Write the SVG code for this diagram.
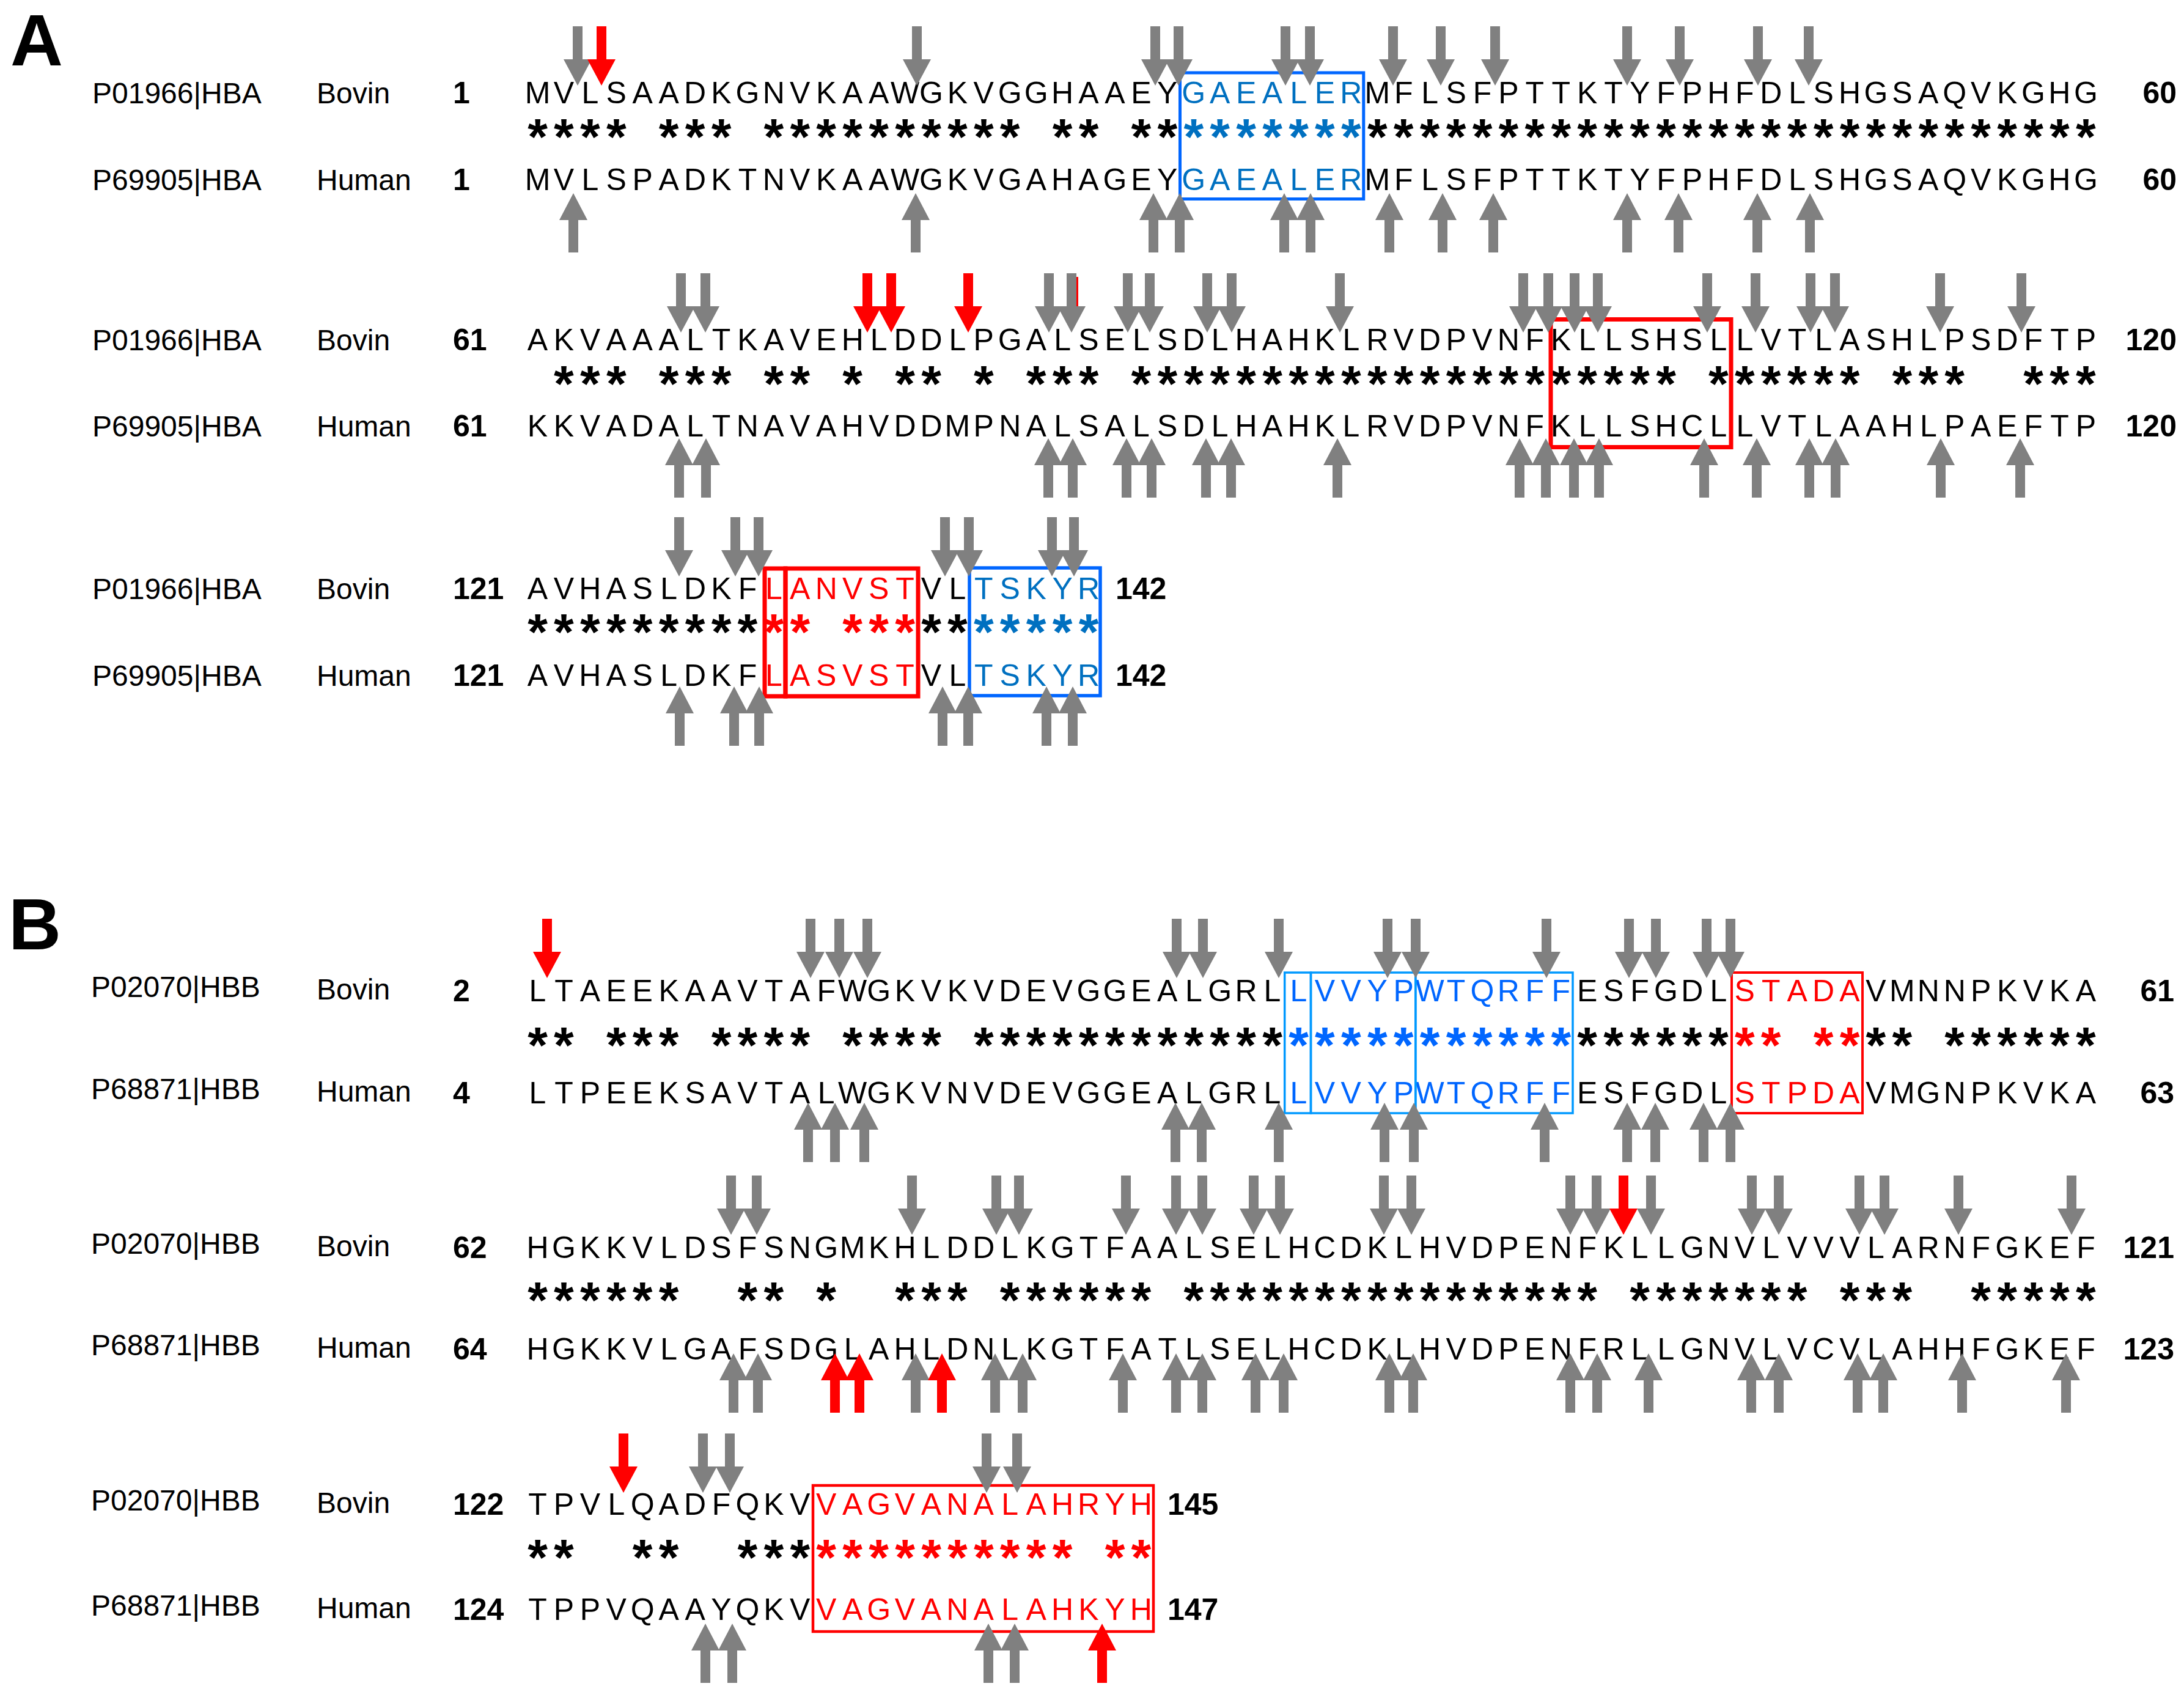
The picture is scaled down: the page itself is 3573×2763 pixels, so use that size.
<svg xmlns="http://www.w3.org/2000/svg" xmlns:xlink="http://www.w3.org/1999/xlink" width="3573" height="2763" viewBox="0 0 3573 2763">
<style>
text{font-family:"Liberation Sans",Arial,sans-serif}
.seq{font-size:50px;text-anchor:middle}
.star{font-size:84px;font-weight:bold;text-anchor:middle}
.lab{font-size:48px}
.num{font-size:50px;font-weight:bold}
.end{text-anchor:end}
.pan{font-size:119px;font-weight:bold}
.k{fill:#000}
.bA{fill:#0070C0}
.bB{fill:#0066FF}
.r{fill:#FF0000}
.g{fill:#808080}
.boxA{fill:none;stroke:#0066FF;stroke-width:5}
.boxB{fill:none;stroke:#0099FF;stroke-width:3.5}
.rbA{fill:none;stroke:#FF0000;stroke-width:7}
.rbB{fill:none;stroke:#FF0000;stroke-width:4}
</style>
<defs>
<path id="dn" d="M-8,0H8V54H23L0,97L-23,54H-8Z"/>
<path id="up" d="M-8,97H8V44H23L0,0L-23,44H-8Z"/>
</defs>
<rect width="3573" height="2763" fill="#fff"/>

<g id="panel-A">
<text class="pan" x="17" y="107">A</text>
<g id="A-labels">
<text class="lab" x="151" y="169">P01966|HBA</text><text class="lab" x="518" y="169">Bovin</text><text class="num" x="741" y="169">1</text>
<text class="lab" x="151" y="311">P69905|HBA</text><text class="lab" x="518" y="311">Human</text><text class="num" x="741" y="311">1</text>
<text class="num end" x="3561" y="169">60</text><text class="num end" x="3561" y="311">60</text>
<text class="lab" x="151" y="573">P01966|HBA</text><text class="lab" x="518" y="573">Bovin</text><text class="num" x="741" y="573">61</text>
<text class="lab" x="151" y="714">P69905|HBA</text><text class="lab" x="518" y="714">Human</text><text class="num" x="741" y="714">61</text>
<text class="num end" x="3561" y="573">120</text><text class="num end" x="3561" y="714">120</text>
<text class="lab" x="151" y="980">P01966|HBA</text><text class="lab" x="518" y="980">Bovin</text><text class="num" x="741" y="980">121</text>
<text class="lab" x="151" y="1122">P69905|HBA</text><text class="lab" x="518" y="1122">Human</text><text class="num" x="741" y="1122">121</text>
<text class="num" x="1825" y="980">142</text><text class="num" x="1825" y="1122">142</text>
</g>
<g id="A-seq" transform="translate(2.5,0)">
<text class="seq" y="169"><tspan class="k" x="877 919.9 962.9 1005.8 1048.7 1091.7 1134.6 1177.5 1220.4 1263.4 1306.3 1349.2 1392.2 1435.1 1478 1521 1563.9 1606.8 1649.7 1692.7 1735.6 1778.5 1821.5 1864.4 1907.3">MVLSAADKGNVKAAWGKVGGHAAEY</tspan><tspan class="bA" x="1950.3 1993.2 2036.1 2079 2122 2164.9 2207.8">GAEALER</tspan><tspan class="k" x="2250.8 2293.7 2336.6 2379.6 2422.5 2465.4 2508.3 2551.3 2594.2 2637.1 2680.1 2723 2765.9 2808.9 2851.8 2894.7 2937.6 2980.6 3023.5 3066.4 3109.4 3152.3 3195.2 3238.2 3281.1 3324 3366.9 3409.9">MFLSFPTTKTYFPHFDLSHGSAQVKGHG</tspan></text>
<text class="star" y="253"><tspan class="k" x="877 919.9 962.9 1005.8 1091.7 1134.6 1177.5 1263.4 1306.3 1349.2 1392.2 1435.1 1478 1521 1563.9 1606.8 1649.7 1735.6 1778.5 1864.4 1907.3">*********************</tspan><tspan class="bA" x="1950.3 1993.2 2036.1 2079 2122 2164.9 2207.8">*******</tspan><tspan class="k" x="2250.8 2293.7 2336.6 2379.6 2422.5 2465.4 2508.3 2551.3 2594.2 2637.1 2680.1 2723 2765.9 2808.9 2851.8 2894.7 2937.6 2980.6 3023.5 3066.4 3109.4 3152.3 3195.2 3238.2 3281.1 3324 3366.9 3409.9">****************************</tspan></text>
<text class="seq" y="311"><tspan class="k" x="877 919.9 962.9 1005.8 1048.7 1091.7 1134.6 1177.5 1220.4 1263.4 1306.3 1349.2 1392.2 1435.1 1478 1521 1563.9 1606.8 1649.7 1692.7 1735.6 1778.5 1821.5 1864.4 1907.3">MVLSPADKTNVKAAWGKVGAHAGEY</tspan><tspan class="bA" x="1950.3 1993.2 2036.1 2079 2122 2164.9 2207.8">GAEALER</tspan><tspan class="k" x="2250.8 2293.7 2336.6 2379.6 2422.5 2465.4 2508.3 2551.3 2594.2 2637.1 2680.1 2723 2765.9 2808.9 2851.8 2894.7 2937.6 2980.6 3023.5 3066.4 3109.4 3152.3 3195.2 3238.2 3281.1 3324 3366.9 3409.9">MFLSFPTTKTYFPHFDLSHGSAQVKGHG</tspan></text>

<text class="seq k" y="573" x="877 919.9 962.9 1005.8 1048.7 1091.7 1134.6 1177.5 1220.4 1263.4 1306.3 1349.2 1392.2 1435.1 1478 1521 1563.9 1606.8 1649.7 1692.7 1735.6 1778.5 1821.5 1864.4 1907.3 1950.3 1993.2 2036.1 2079 2122 2164.9 2207.8 2250.8 2293.7 2336.6 2379.6 2422.5 2465.4 2508.3 2551.3 2594.2 2637.1 2680.1 2723 2765.9 2808.9 2851.8 2894.7 2937.6 2980.6 3023.5 3066.4 3109.4 3152.3 3195.2 3238.2 3281.1 3324 3366.9 3409.9">AKVAAALTKAVEHLDDLPGALSELSDLHAHKLRVDPVNFKLLSHSLLVTLASHLPSDFTP</text>
<text class="star k" y="657" x="919.9 962.9 1005.8 1091.7 1134.6 1177.5 1263.4 1306.3 1392.2 1478 1521 1606.8 1692.7 1735.6 1778.5 1864.4 1907.3 1950.3 1993.2 2036.1 2079 2122 2164.9 2207.8 2250.8 2293.7 2336.6 2379.6 2422.5 2465.4 2508.3 2551.3 2594.2 2637.1 2680.1 2723 2808.9 2851.8 2894.7 2937.6 2980.6 3023.5 3109.4 3152.3 3195.2 3324 3366.9 3409.9">************************************************</text>
<text class="seq k" y="714" x="877 919.9 962.9 1005.8 1048.7 1091.7 1134.6 1177.5 1220.4 1263.4 1306.3 1349.2 1392.2 1435.1 1478 1521 1563.9 1606.8 1649.7 1692.7 1735.6 1778.5 1821.5 1864.4 1907.3 1950.3 1993.2 2036.1 2079 2122 2164.9 2207.8 2250.8 2293.7 2336.6 2379.6 2422.5 2465.4 2508.3 2551.3 2594.2 2637.1 2680.1 2723 2765.9 2808.9 2851.8 2894.7 2937.6 2980.6 3023.5 3066.4 3109.4 3152.3 3195.2 3238.2 3281.1 3324 3366.9 3409.9">KKVADALTNAVAHVDDMPNALSALSDLHAHKLRVDPVNFKLLSHCLLVTLAAHLPAEFTP</text>

<text class="seq" y="980"><tspan class="k" x="877 919.9 962.9 1005.8 1048.7 1091.7 1134.6 1177.5 1220.4">AVHASLDKF</tspan><tspan class="r" x="1263.4 1306.3 1349.2 1392.2 1435.1 1478">LANVST</tspan><tspan class="k" x="1521 1563.9">VL</tspan><tspan class="bA" x="1606.8 1649.7 1692.7 1735.6 1778.5">TSKYR</tspan></text>
<text class="star" y="1063"><tspan class="k" x="877 919.9 962.9 1005.8 1048.7 1091.7 1134.6 1177.5 1220.4">*********</tspan><tspan class="r" x="1263.4 1306.3 1392.2 1435.1 1478">*****</tspan><tspan class="k" x="1521 1563.9">**</tspan><tspan class="bA" x="1606.8 1649.7 1692.7 1735.6 1778.5">*****</tspan></text>
<text class="seq" y="1122"><tspan class="k" x="877 919.9 962.9 1005.8 1048.7 1091.7 1134.6 1177.5 1220.4">AVHASLDKF</tspan><tspan class="r" x="1263.4 1306.3 1349.2 1392.2 1435.1 1478">LASVST</tspan><tspan class="k" x="1521 1563.9">VL</tspan><tspan class="bA" x="1606.8 1649.7 1692.7 1735.6 1778.5">TSKYR</tspan></text>
</g>
<g id="A-boxes">
<rect class="boxA" x="1930.5" y="119" width="300.3" height="206.5"/>
<rect class="rbA" x="2537" y="522.5" width="295" height="209"/>
<rect class="rbA" x="1251" y="930" width="34" height="209"/>
<rect class="rbA" x="1285" y="930" width="217" height="209"/>
<rect class="boxA" x="1586" y="929" width="214" height="209" style="stroke-width:5.5"/>
</g>
</g>

<g id="panel-B">
<text class="pan" x="14" y="1553">B</text>
<g id="B-labels">
<text class="lab" x="149" y="1631">P02070|HBB</text><text class="lab" x="518" y="1635">Bovin</text><text class="num" x="741" y="1638">2</text>
<text class="lab" x="149" y="1798">P68871|HBB</text><text class="lab" x="518" y="1802">Human</text><text class="num" x="741" y="1805">4</text>
<text class="num end" x="3557" y="1638">61</text><text class="num end" x="3557" y="1805">63</text>
<text class="lab" x="149" y="2051">P02070|HBB</text><text class="lab" x="518" y="2055">Bovin</text><text class="num" x="741" y="2058">62</text>
<text class="lab" x="149" y="2217">P68871|HBB</text><text class="lab" x="518" y="2221">Human</text><text class="num" x="741" y="2224">64</text>
<text class="num end" x="3557" y="2058">121</text><text class="num end" x="3557" y="2224">123</text>
<text class="lab" x="149" y="2471">P02070|HBB</text><text class="lab" x="518" y="2475">Bovin</text><text class="num" x="741" y="2478">122</text>
<text class="lab" x="149" y="2643">P68871|HBB</text><text class="lab" x="518" y="2647">Human</text><text class="num" x="741" y="2650">124</text>
<text class="num" x="1910" y="2478">145</text><text class="num" x="1910" y="2650">147</text>
</g>
<g id="B-seq" transform="translate(2.5,0)">
<text class="seq" y="1638"><tspan class="k" x="877 919.9 962.9 1005.8 1048.7 1091.7 1134.6 1177.5 1220.4 1263.4 1306.3 1349.2 1392.2 1435.1 1478 1521 1563.9 1606.8 1649.7 1692.7 1735.6 1778.5 1821.5 1864.4 1907.3 1950.3 1993.2 2036.1 2079">LTAEEKAAVTAFWGKVKVDEVGGEALGRL</tspan><tspan class="bB" x="2122 2164.9 2207.8 2250.8 2293.7 2336.6 2379.6 2422.5 2465.4 2508.3 2551.3">LVVYPWTQRFF</tspan><tspan class="k" x="2594.2 2637.1 2680.1 2723 2765.9 2808.9">ESFGDL</tspan><tspan class="r" x="2851.8 2894.7 2937.6 2980.6 3023.5">STADA</tspan><tspan class="k" x="3066.4 3109.4 3152.3 3195.2 3238.2 3281.1 3324 3366.9 3409.9">VMNNPKVKA</tspan></text>
<text class="star" y="1739"><tspan class="k" x="877 919.9 1005.8 1048.7 1091.7 1177.5 1220.4 1263.4 1306.3 1392.2 1435.1 1478 1521 1606.8 1649.7 1692.7 1735.6 1778.5 1821.5 1864.4 1907.3 1950.3 1993.2 2036.1 2079">*************************</tspan><tspan class="bB" x="2122 2164.9 2207.8 2250.8 2293.7 2336.6 2379.6 2422.5 2465.4 2508.3 2551.3">***********</tspan><tspan class="k" x="2594.2 2637.1 2680.1 2723 2765.9 2808.9">******</tspan><tspan class="r" x="2851.8 2894.7 2980.6 3023.5">****</tspan><tspan class="k" x="3066.4 3109.4 3195.2 3238.2 3281.1 3324 3366.9 3409.9">********</tspan></text>
<text class="seq" y="1805"><tspan class="k" x="877 919.9 962.9 1005.8 1048.7 1091.7 1134.6 1177.5 1220.4 1263.4 1306.3 1349.2 1392.2 1435.1 1478 1521 1563.9 1606.8 1649.7 1692.7 1735.6 1778.5 1821.5 1864.4 1907.3 1950.3 1993.2 2036.1 2079">LTPEEKSAVTALWGKVNVDEVGGEALGRL</tspan><tspan class="bB" x="2122 2164.9 2207.8 2250.8 2293.7 2336.6 2379.6 2422.5 2465.4 2508.3 2551.3">LVVYPWTQRFF</tspan><tspan class="k" x="2594.2 2637.1 2680.1 2723 2765.9 2808.9">ESFGDL</tspan><tspan class="r" x="2851.8 2894.7 2937.6 2980.6 3023.5">STPDA</tspan><tspan class="k" x="3066.4 3109.4 3152.3 3195.2 3238.2 3281.1 3324 3366.9 3409.9">VMGNPKVKA</tspan></text>

<text class="seq k" y="2058" x="877 919.9 962.9 1005.8 1048.7 1091.7 1134.6 1177.5 1220.4 1263.4 1306.3 1349.2 1392.2 1435.1 1478 1521 1563.9 1606.8 1649.7 1692.7 1735.6 1778.5 1821.5 1864.4 1907.3 1950.3 1993.2 2036.1 2079 2122 2164.9 2207.8 2250.8 2293.7 2336.6 2379.6 2422.5 2465.4 2508.3 2551.3 2594.2 2637.1 2680.1 2723 2765.9 2808.9 2851.8 2894.7 2937.6 2980.6 3023.5 3066.4 3109.4 3152.3 3195.2 3238.2 3281.1 3324 3366.9 3409.9">HGKKVLDSFSNGMKHLDDLKGTFAALSELHCDKLHVDPENFKLLGNVLVVVLARNFGKEF</text>
<text class="star k" y="2156" x="877 919.9 962.9 1005.8 1048.7 1091.7 1220.4 1263.4 1349.2 1478 1521 1563.9 1649.7 1692.7 1735.6 1778.5 1821.5 1864.4 1950.3 1993.2 2036.1 2079 2122 2164.9 2207.8 2250.8 2293.7 2336.6 2379.6 2422.5 2465.4 2508.3 2551.3 2594.2 2680.1 2723 2765.9 2808.9 2851.8 2894.7 2937.6 3023.5 3066.4 3109.4 3238.2 3281.1 3324 3366.9 3409.9">*************************************************</text>
<text class="seq k" y="2224" x="877 919.9 962.9 1005.8 1048.7 1091.7 1134.6 1177.5 1220.4 1263.4 1306.3 1349.2 1392.2 1435.1 1478 1521 1563.9 1606.8 1649.7 1692.7 1735.6 1778.5 1821.5 1864.4 1907.3 1950.3 1993.2 2036.1 2079 2122 2164.9 2207.8 2250.8 2293.7 2336.6 2379.6 2422.5 2465.4 2508.3 2551.3 2594.2 2637.1 2680.1 2723 2765.9 2808.9 2851.8 2894.7 2937.6 2980.6 3023.5 3066.4 3109.4 3152.3 3195.2 3238.2 3281.1 3324 3366.9 3409.9">HGKKVLGAFSDGLAHLDNLKGTFATLSELHCDKLHVDPENFRLLGNVLVCVLAHHFGKEF</text>

<text class="seq" y="2478"><tspan class="k" x="877 919.9 962.9 1005.8 1048.7 1091.7 1134.6 1177.5 1220.4 1263.4 1306.3">TPVLQADFQKV</tspan><tspan class="r" x="1349.2 1392.2 1435.1 1478 1521 1563.9 1606.8 1649.7 1692.7 1735.6 1778.5 1821.5 1864.4">VAGVANALAHRYH</tspan></text>
<text class="star" y="2577"><tspan class="k" x="877 919.9 1048.7 1091.7 1220.4 1263.4 1306.3">*******</tspan><tspan class="r" x="1349.2 1392.2 1435.1 1478 1521 1563.9 1606.8 1649.7 1692.7 1735.6 1821.5 1864.4">************</tspan></text>
<text class="seq" y="2650"><tspan class="k" x="877 919.9 962.9 1005.8 1048.7 1091.7 1134.6 1177.5 1220.4 1263.4 1306.3">TPPVQAAYQKV</tspan><tspan class="r" x="1349.2 1392.2 1435.1 1478 1521 1563.9 1606.8 1649.7 1692.7 1735.6 1778.5 1821.5 1864.4">VAGVANALAHKYH</tspan></text>
</g>
<g id="B-boxes">
<rect class="boxB" x="2101.7" y="1591" width="42.8" height="230"/>
<rect class="boxB" x="2144.5" y="1591" width="171.3" height="230"/>
<rect class="boxB" x="2315.8" y="1591" width="257.2" height="230"/>
<rect class="rbB" x="2833" y="1591" width="214" height="230"/>
<rect class="rbB" x="1330" y="2430" width="557" height="239" style="stroke-width:4.5"/>
</g>
</g>

<g id="connectors">
<rect x="1761" y="453" width="3" height="70" fill="#FF0000"/>
<g id="gray-arrows" class="g">
<use xlink:href="#dn" x="945" y="43"/><use xlink:href="#dn" x="1500" y="43"/><use xlink:href="#dn" x="1890" y="43"/><use xlink:href="#dn" x="1928" y="43"/><use xlink:href="#dn" x="2103" y="43"/><use xlink:href="#dn" x="2143" y="43"/><use xlink:href="#dn" x="2279" y="43"/><use xlink:href="#dn" x="2357" y="43"/><use xlink:href="#dn" x="2446" y="43"/><use xlink:href="#dn" x="2662" y="43"/><use xlink:href="#dn" x="2748" y="43"/><use xlink:href="#dn" x="2876" y="43"/><use xlink:href="#dn" x="2959" y="43"/>
<use xlink:href="#up" x="938" y="316"/><use xlink:href="#up" x="1498" y="316"/><use xlink:href="#up" x="1887" y="316"/><use xlink:href="#up" x="1930" y="316"/><use xlink:href="#up" x="2101" y="316"/><use xlink:href="#up" x="2144" y="316"/><use xlink:href="#up" x="2273" y="316"/><use xlink:href="#up" x="2360" y="316"/><use xlink:href="#up" x="2443" y="316"/><use xlink:href="#up" x="2662" y="316"/><use xlink:href="#up" x="2746" y="316"/><use xlink:href="#up" x="2875" y="316"/><use xlink:href="#up" x="2961" y="316"/>
<use xlink:href="#dn" x="1114" y="447"/><use xlink:href="#dn" x="1154" y="447"/><use xlink:href="#dn" x="1716" y="447"/><use xlink:href="#dn" x="1753" y="447"/><use xlink:href="#dn" x="1845" y="447"/><use xlink:href="#dn" x="1881" y="447"/><use xlink:href="#dn" x="1975" y="447"/><use xlink:href="#dn" x="2015" y="447"/><use xlink:href="#dn" x="2192" y="447"/><use xlink:href="#dn" x="2492" y="447"/><use xlink:href="#dn" x="2533" y="447"/><use xlink:href="#dn" x="2576" y="447"/><use xlink:href="#dn" x="2614" y="447"/><use xlink:href="#dn" x="2793" y="447"/><use xlink:href="#dn" x="2872" y="447"/><use xlink:href="#dn" x="2962" y="447"/><use xlink:href="#dn" x="3002" y="447"/><use xlink:href="#dn" x="3174" y="447"/><use xlink:href="#dn" x="3307" y="447"/>
<use xlink:href="#up" x="1111" y="717"/><use xlink:href="#up" x="1155" y="717"/><use xlink:href="#up" x="1715" y="717"/><use xlink:href="#up" x="1755" y="717"/><use xlink:href="#up" x="1843" y="717"/><use xlink:href="#up" x="1884" y="717"/><use xlink:href="#up" x="1973" y="717"/><use xlink:href="#up" x="2014" y="717"/><use xlink:href="#up" x="2188" y="717"/><use xlink:href="#up" x="2486" y="717"/><use xlink:href="#up" x="2529" y="717"/><use xlink:href="#up" x="2575" y="717"/><use xlink:href="#up" x="2616" y="717"/><use xlink:href="#up" x="2788" y="717"/><use xlink:href="#up" x="2874" y="717"/><use xlink:href="#up" x="2960" y="717"/><use xlink:href="#up" x="3003" y="717"/><use xlink:href="#up" x="3175" y="717"/><use xlink:href="#up" x="3305" y="717"/>
<use xlink:href="#dn" x="1111" y="846"/><use xlink:href="#dn" x="1203" y="846"/><use xlink:href="#dn" x="1241" y="846"/><use xlink:href="#dn" x="1546" y="846"/><use xlink:href="#dn" x="1585" y="846"/><use xlink:href="#dn" x="1721" y="846"/><use xlink:href="#dn" x="1757" y="846"/>
<use xlink:href="#up" x="1112" y="1123"/><use xlink:href="#up" x="1201" y="1123"/><use xlink:href="#up" x="1242" y="1123"/><use xlink:href="#up" x="1542" y="1123"/><use xlink:href="#up" x="1584" y="1123"/><use xlink:href="#up" x="1712" y="1123"/><use xlink:href="#up" x="1755" y="1123"/>
<use xlink:href="#dn" x="1326" y="1503"/><use xlink:href="#dn" x="1373" y="1503"/><use xlink:href="#dn" x="1419" y="1503"/><use xlink:href="#dn" x="1925" y="1503"/><use xlink:href="#dn" x="1968" y="1503"/><use xlink:href="#dn" x="2092" y="1503"/><use xlink:href="#dn" x="2270" y="1503"/><use xlink:href="#dn" x="2316" y="1503"/><use xlink:href="#dn" x="2530" y="1503"/><use xlink:href="#dn" x="2665" y="1503"/><use xlink:href="#dn" x="2709" y="1503"/><use xlink:href="#dn" x="2792" y="1503"/><use xlink:href="#dn" x="2831" y="1503"/>
<use xlink:href="#up" x="1322" y="1804"/><use xlink:href="#up" x="1366" y="1804"/><use xlink:href="#up" x="1414" y="1804"/><use xlink:href="#up" x="1923" y="1804"/><use xlink:href="#up" x="1966" y="1804"/><use xlink:href="#up" x="2092" y="1804"/><use xlink:href="#up" x="2265" y="1804"/><use xlink:href="#up" x="2313" y="1804"/><use xlink:href="#up" x="2527" y="1804"/><use xlink:href="#up" x="2662" y="1804"/><use xlink:href="#up" x="2708" y="1804"/><use xlink:href="#up" x="2787" y="1804"/><use xlink:href="#up" x="2831" y="1804"/>
<use xlink:href="#dn" x="1196" y="1923"/><use xlink:href="#dn" x="1238" y="1923"/><use xlink:href="#dn" x="1492" y="1923"/><use xlink:href="#dn" x="1630" y="1923"/><use xlink:href="#dn" x="1667" y="1923"/><use xlink:href="#dn" x="1842" y="1923"/><use xlink:href="#dn" x="1924" y="1923"/><use xlink:href="#dn" x="1967" y="1923"/><use xlink:href="#dn" x="2051" y="1923"/><use xlink:href="#dn" x="2094" y="1923"/><use xlink:href="#dn" x="2264" y="1923"/><use xlink:href="#dn" x="2309" y="1923"/><use xlink:href="#dn" x="2569" y="1923"/><use xlink:href="#dn" x="2612" y="1923"/><use xlink:href="#dn" x="2701" y="1923"/><use xlink:href="#dn" x="2866" y="1923"/><use xlink:href="#dn" x="2910" y="1923"/><use xlink:href="#dn" x="3042" y="1923"/><use xlink:href="#dn" x="3083" y="1923"/><use xlink:href="#dn" x="3204" y="1923"/><use xlink:href="#dn" x="3389" y="1923"/>
<use xlink:href="#up" x="1200" y="2214"/><use xlink:href="#up" x="1240" y="2214"/><use xlink:href="#up" x="1498" y="2214"/><use xlink:href="#up" x="1628" y="2214"/><use xlink:href="#up" x="1673" y="2214"/><use xlink:href="#up" x="1837" y="2214"/><use xlink:href="#up" x="1924" y="2214"/><use xlink:href="#up" x="1967" y="2214"/><use xlink:href="#up" x="2054" y="2214"/><use xlink:href="#up" x="2100" y="2214"/><use xlink:href="#up" x="2273" y="2214"/><use xlink:href="#up" x="2312" y="2214"/><use xlink:href="#up" x="2569" y="2214"/><use xlink:href="#up" x="2613" y="2214"/><use xlink:href="#up" x="2697" y="2214"/><use xlink:href="#up" x="2865" y="2214"/><use xlink:href="#up" x="2910" y="2214"/><use xlink:href="#up" x="3039" y="2214"/><use xlink:href="#up" x="3081" y="2214"/><use xlink:href="#up" x="3210" y="2214"/><use xlink:href="#up" x="3380" y="2214"/>
<use xlink:href="#dn" x="1150" y="2345"/><use xlink:href="#dn" x="1194" y="2345"/><use xlink:href="#dn" x="1614" y="2345"/><use xlink:href="#dn" x="1664" y="2345"/>
<use xlink:href="#up" x="1154" y="2656"/><use xlink:href="#up" x="1198" y="2656"/><use xlink:href="#up" x="1617" y="2656"/><use xlink:href="#up" x="1660" y="2656"/>
</g>
<g id="red-arrows" class="r">
<use xlink:href="#dn" x="984" y="43"/>
<use xlink:href="#dn" x="1419" y="447"/><use xlink:href="#dn" x="1458" y="447"/><use xlink:href="#dn" x="1584" y="447"/>
<use xlink:href="#dn" x="895" y="1503"/>
<use xlink:href="#dn" x="2656" y="1923"/>
<use xlink:href="#up" x="1366" y="2214"/><use xlink:href="#up" x="1406" y="2214"/><use xlink:href="#up" x="1541" y="2214"/>
<use xlink:href="#dn" x="1020" y="2345"/>
<use xlink:href="#up" x="1803" y="2656"/>
</g>
</g>
</svg>
